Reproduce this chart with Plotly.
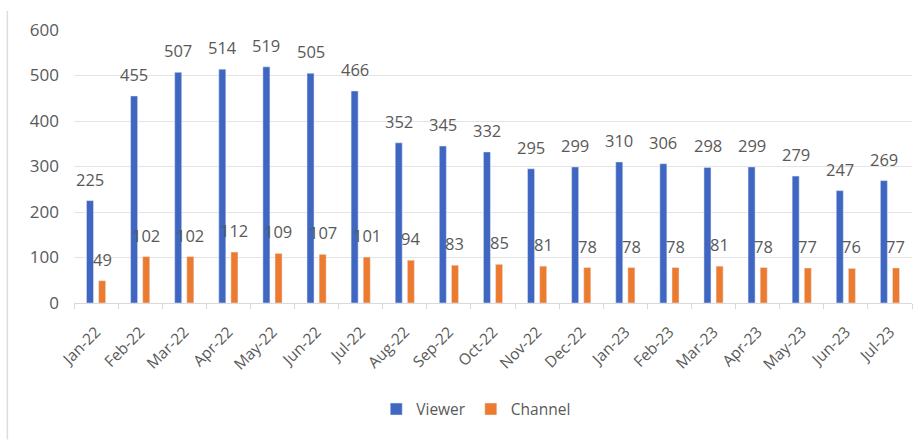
import plotly.graph_objects as go

months = ["Jan-22", "Feb-22", "Mar-22", "Apr-22", "May-22", "Jun-22", "Jul-22", "Aug-22",
          "Sep-22", "Oct-22", "Nov-22", "Dec-22", "Jan-23", "Feb-23", "Mar-23", "Apr-23",
          "May-23", "Jun-23", "Jul-23"]
viewer = [225, 455, 507, 514, 519, 505, 466, 352, 345, 332, 295, 299, 310, 306, 298, 299, 279, 247, 269]
channel = [49, 102, 102, 112, 109, 107, 101, 94, 83, 85, 81, 78, 78, 78, 81, 78, 77, 76, 77]
y_ticks = [0, 100, 200, 300, 400, 500, 600]

BLUE = "#3F67C2"
ORANGE = "#EC7B30"
TXT = "#595959"
FONT = "Open Sans"

fig = go.Figure()
fig.add_trace(go.Bar(name="Viewer", x=months, y=viewer, marker_color=BLUE))
fig.add_trace(go.Bar(name="Channel", x=months, y=channel, marker_color=ORANGE))

annotations = []
for series, shift in ((viewer, -6), (channel, 6)):
    for m, v in zip(months, series):
        annotations.append(dict(x=m, y=v, text=str(v), showarrow=False, xshift=shift,
                                yanchor="bottom", yshift=8,
                                font=dict(family=FONT, size=16.5, color=TXT)))

fig.update_layout(
    width=913, height=447,
    margin=dict(l=74, r=1, t=30, b=144),
    paper_bgcolor="white", plot_bgcolor="white",
    barmode="group", bargap=0.45, bargroupgap=0.42,
    font=dict(family=FONT, color=TXT),
    annotations=annotations,
    legend=dict(orientation="h", x=0.48, xanchor="center", y=-0.39, yanchor="middle",
                font=dict(family=FONT, size=15.5, color=TXT), traceorder="normal",
                itemwidth=30),
    shapes=[dict(type="line", xref="paper", yref="paper", x0=-0.0795, x1=-0.0795,
                 y0=1.07, y1=-0.5, line=dict(color="#DDDDDD", width=1.5))],
)
fig.update_xaxes(type="category", tickangle=-45, tickfont=dict(family=FONT, size=15.5, color=TXT),
                 showline=True, linecolor="#D9D9D9", linewidth=1,
                 ticks="outside", tickson="boundaries", ticklen=5, tickcolor="#D9D9D9",
                 ticklabelstandoff=13, showgrid=False)
fig.update_yaxes(range=[0, 600], tickvals=y_ticks, showgrid=True, gridcolor="#E4E4E4",
                 zeroline=False, tickfont=dict(family=FONT, size=17, color=TXT),
                 ticklabelstandoff=14)

fig.write_html("out.html")
